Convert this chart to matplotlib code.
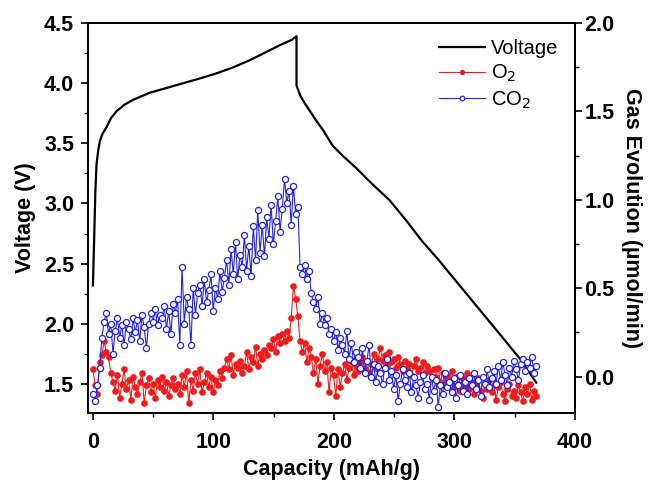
import numpy as np
import matplotlib
matplotlib.use("Agg")
import matplotlib.pyplot as plt
from matplotlib.ticker import MultipleLocator

plt.rcParams['font.family'] = ['Liberation Sans', 'DejaVu Sans']

# Voltage profile (capacity mAh/g, voltage V)
volt_cap = [0.0, 1.0, 2.0, 3.0, 4.5, 5.8, 8, 11.6, 15, 19.9, 26, 33, 40, 47, 61, 75, 89,
            102, 116, 130, 144, 156, 165, 169, 169, 172, 176, 180, 186, 191, 199, 208,
            218, 232, 246, 260, 273, 287, 301, 315, 329, 343, 356, 362, 368]
volt_val = [2.32, 2.70, 3.10, 3.33, 3.45, 3.52, 3.58, 3.64, 3.71, 3.77, 3.82, 3.86, 3.89,
            3.92, 3.96, 4.00, 4.04, 4.08, 4.13, 4.19, 4.26, 4.32, 4.36, 4.39, 3.98, 3.90,
            3.83, 3.77, 3.68, 3.61, 3.48, 3.39, 3.30, 3.16, 3.03, 2.86, 2.69, 2.53, 2.36,
            2.19, 2.02, 1.85, 1.69, 1.60, 1.51]

# Gas evolution (umol/min), sampled evenly from 0 to 368 mAh/g
gas_cap = np.linspace(0, 368, 200)

co2 = [
    -0.10, -0.14, -0.05, 0.05, 0.22, 0.31, 0.36, 0.24, 0.30, 0.13,
    0.26, 0.33, 0.22, 0.29, 0.18, 0.31, 0.27, 0.21, 0.33, 0.25,
    0.32, 0.20, 0.35, 0.28, 0.16, 0.30, 0.36, 0.31, 0.38, 0.29,
    0.35, 0.33, 0.40, 0.27, 0.37, 0.24, 0.41, 0.36, 0.44, 0.18,
    0.62, 0.30, 0.45, 0.38, 0.18, 0.50, 0.35, 0.47, 0.52, 0.40,
    0.55, 0.42, 0.49, 0.58, 0.37, 0.50, 0.44, 0.60, 0.48, 0.56,
    0.66, 0.52, 0.72, 0.58, 0.76, 0.55, 0.69, 0.62, 0.80, 0.60,
    0.74, 0.57, 0.85, 0.66, 0.94, 0.70, 0.86, 0.68, 0.90, 0.78,
    0.97, 0.75, 0.88, 1.02, 0.82, 0.95, 1.12, 0.98, 1.05, 0.86,
    1.08, 0.92, 0.96, 0.62, 0.58, 0.63, 0.55, 0.60, 0.47, 0.42,
    0.38, 0.45, 0.30, 0.36, 0.29, 0.33, 0.24, 0.27, 0.20, 0.25,
    0.15, 0.22, 0.18, 0.13, 0.26, 0.10, 0.19, 0.08, 0.14, 0.11,
    0.05, 0.16, 0.02, 0.09, 0.18, 0.00, 0.07, -0.03, 0.06, 0.02,
    -0.04, 0.05, 0.10, -0.02, 0.03, -0.07, 0.01, -0.14, -0.04, 0.04,
    -0.02, -0.06, 0.02, -0.09, 0.00, -0.05, -0.12, -0.03, 0.01, -0.07,
    -0.04, -0.13, 0.00, -0.08, -0.02, -0.17, -0.05, -0.10, 0.02, -0.06,
    -0.03, -0.09, -0.01, -0.12, -0.05, 0.01, -0.08, -0.03, -0.10, -0.01,
    -0.05, 0.02, -0.07, -0.02, -0.11, 0.00, -0.04, 0.04, -0.06, -0.01,
    0.03, -0.04, 0.06, -0.02, 0.08, 0.01, -0.05, 0.05, 0.00, 0.09,
    0.04, -0.02, 0.07, 0.10, 0.03, 0.08, 0.05, 0.11, 0.02, 0.06,
]

o2 = [
    0.04, -0.05, -0.10, 0.08, 0.12, 0.20, 0.14, 0.11, 0.02, -0.03,
    -0.08, 0.01, -0.12, -0.04, 0.04, -0.07, -0.02, -0.13, 0.00, -0.06,
    -0.10, -0.03, 0.02, -0.15, -0.05, -0.01, -0.09, -0.04, -0.12, -0.02,
    -0.06, 0.00, -0.08, -0.03, -0.11, -0.05, -0.01, -0.07, -0.04, -0.10,
    0.01, -0.06, 0.03, -0.15, -0.02, -0.08, 0.02, -0.04, 0.04, -0.09,
    -0.03, 0.02, -0.06, 0.00, -0.09, -0.02, -0.05, 0.03, -0.01, 0.05,
    0.10, 0.04, 0.12, 0.01, 0.07, 0.05, 0.09, 0.02, 0.06, 0.14,
    0.04, 0.11, 0.08, 0.17, 0.06, 0.13, 0.10, 0.15, 0.12, 0.18,
    0.16, 0.21, 0.14, 0.23, 0.19, 0.24, 0.20, 0.26, 0.22, 0.33,
    0.51, 0.44, 0.34, 0.20, 0.14, 0.19, 0.08, 0.16, 0.11, 0.02,
    0.10, -0.04, 0.06, 0.13, 0.03, 0.08, -0.09, 0.05, 0.01, -0.11,
    0.04, -0.06, 0.02, 0.07, -0.02, 0.05, 0.09, 0.01, 0.06, 0.03,
    0.08, 0.11, 0.04, 0.09, 0.02, 0.07, 0.13, 0.05, 0.10, 0.16,
    0.09, 0.12, 0.06, 0.14, 0.08, 0.10, 0.05, 0.11, 0.07, 0.03,
    0.09, 0.04, 0.07, 0.01, 0.06, 0.10, 0.03, 0.05, 0.08, 0.02,
    0.06, 0.03, -0.01, 0.04, 0.00, 0.05, -0.03, 0.02, -0.05, 0.01,
    -0.02, 0.03, -0.06, 0.00, -0.04, -0.08, -0.01, -0.05, 0.02, -0.07,
    -0.03, -0.10, -0.05, -0.01, -0.08, -0.12, -0.04, -0.07, -0.02, -0.09,
    -0.05, -0.13, -0.06, -0.03, -0.10, -0.14, -0.07, -0.04, -0.11, -0.08,
    -0.12, -0.05, -0.09, -0.14, -0.06, -0.10, -0.04, -0.13, -0.08, -0.11,
]

fig = plt.figure(figsize=(6.48, 4.8), dpi=100)
ax = fig.add_axes([0.136, 0.140, 0.751, 0.812])
ax2 = ax.twinx()

lv, = ax.plot(volt_cap, volt_val, color='black', lw=1.6, label='Voltage', zorder=3)
lo, = ax2.plot(gas_cap, o2, color='#ee1c1c', lw=0.8, marker='o', ms=3.8,
               mfc='#ee1c1c', mec='#ee1c1c', label='O$_2$')
lc, = ax2.plot(gas_cap, co2, color='#2424e0', lw=0.8, marker='o', ms=4.4,
               mfc='white', mec='#2424e0', mew=0.9, label='CO$_2$')

ax.set_xlim(-4, 400)
ax.set_ylim(1.26, 4.5)
ax2.set_ylim(-0.205, 2.0)

ax.xaxis.set_major_locator(MultipleLocator(100))
ax.xaxis.set_minor_locator(MultipleLocator(50))
ax.yaxis.set_major_locator(MultipleLocator(0.5))
ax.yaxis.set_minor_locator(MultipleLocator(0.25))
ax2.yaxis.set_major_locator(MultipleLocator(0.5))
ax2.yaxis.set_minor_locator(MultipleLocator(0.25))

FS = 15.5
for a in (ax, ax2):
    for s in a.spines.values():
        s.set_linewidth(1.4)
    a.tick_params(which='major', direction='out', length=5, width=1.2, labelsize=FS)
    a.tick_params(which='minor', direction='out', length=3, width=1.0)
ax.tick_params(axis='x', which='major', pad=9)
ax.tick_params(axis='y', which='major', pad=5)
ax2.tick_params(axis='y', which='major', pad=2)
for a in (ax, ax2):
    for lab in a.get_xticklabels() + a.get_yticklabels():
        lab.set_fontweight('bold')

ax.set_xlabel('Capacity (mAh/g)', fontsize=FS, fontweight='bold', labelpad=4)
ax.set_ylabel('Voltage (V)', fontsize=FS, fontweight='bold', labelpad=6)
ax2.set_ylabel('Gas Evolution (µmol/min)', fontsize=FS, fontweight='bold',
               rotation=270, labelpad=20)

leg = ax2.legend([lv, lo, lc], ['Voltage', 'O$_2$', 'CO$_2$'], loc='upper right',
                 frameon=False, fontsize=14.5, handlelength=2.3, handletextpad=0.3,
                 labelspacing=0.25, markerscale=0.75, borderaxespad=0.4)

fig.savefig('out.png', dpi=100)
